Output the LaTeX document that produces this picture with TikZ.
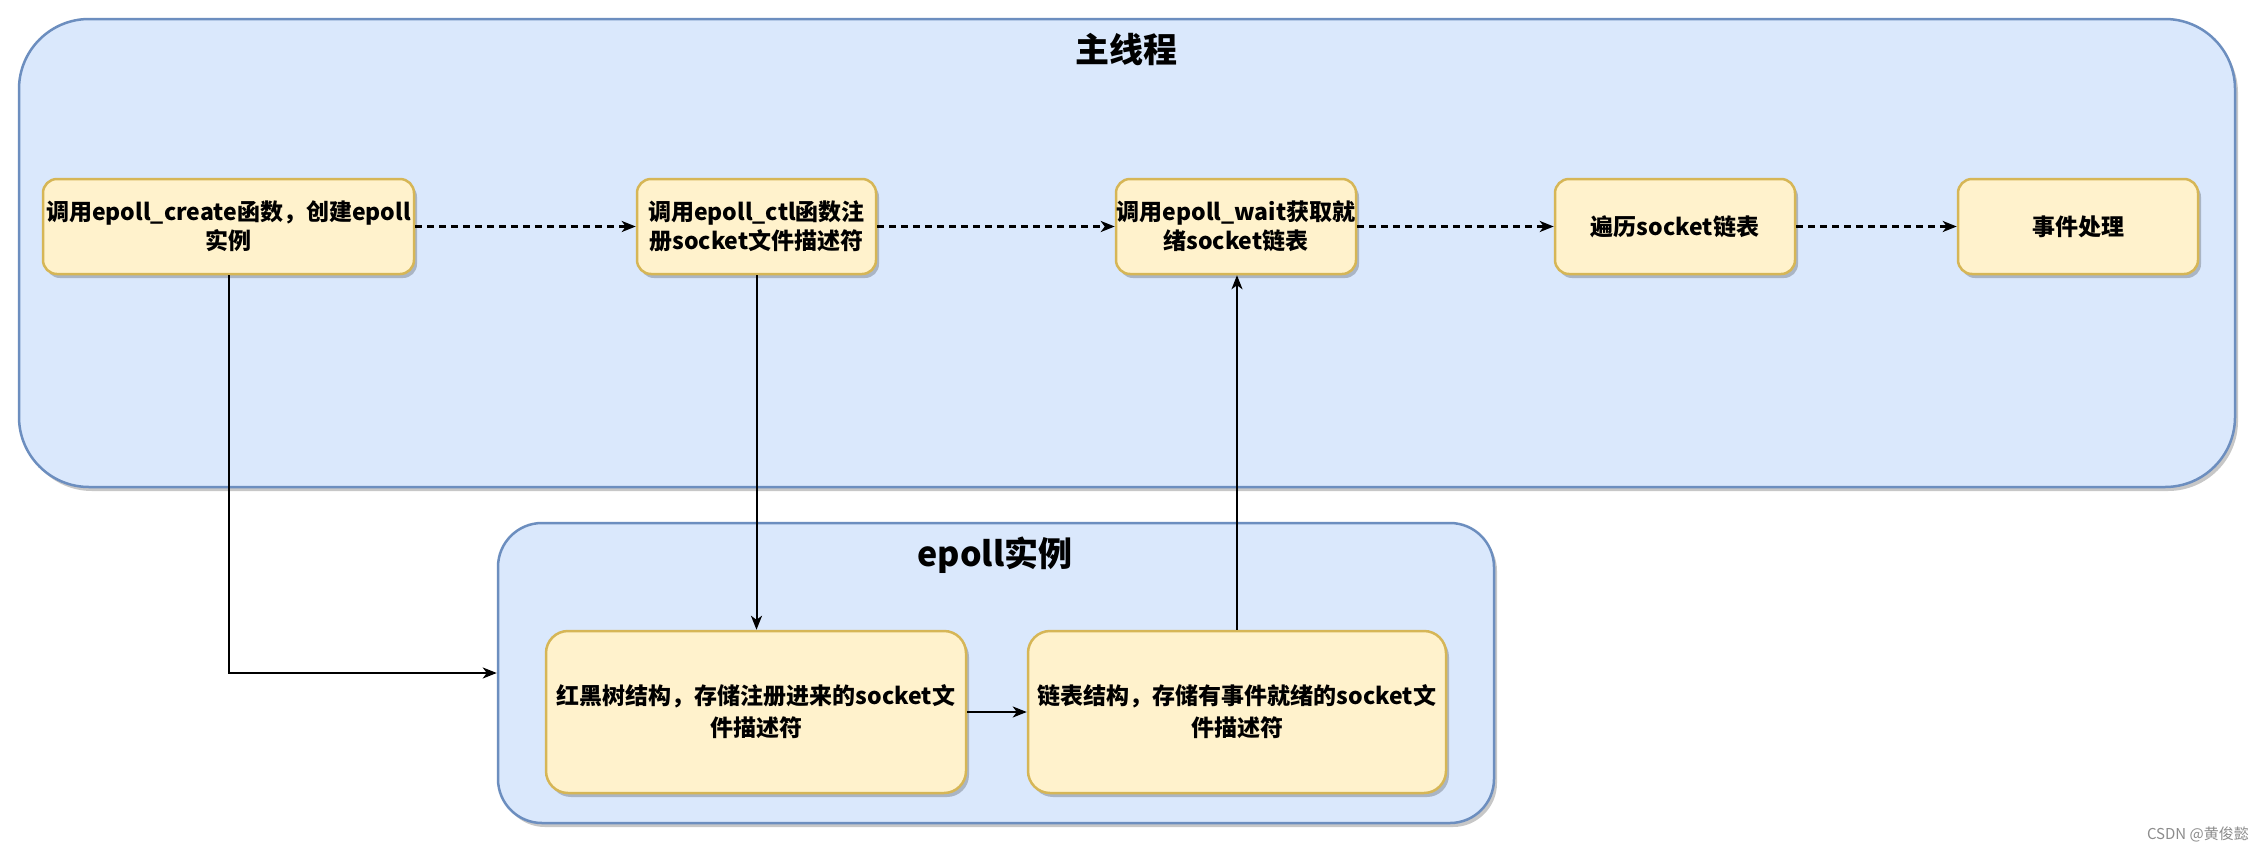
\documentclass[tikz,border=0pt]{standalone}
\usepackage{fontspec}
\setmainfont{Noto Sans CJK SC}
\usetikzlibrary{arrows.meta,shadows}
\definecolor{contfill}{HTML}{DAE8FC}
\definecolor{contdraw}{HTML}{6C8EBF}
\definecolor{boxfill}{HTML}{FFF2CC}
\definecolor{boxdraw}{HTML}{D6B656}
\definecolor{wmark}{HTML}{8C8C8C}
\begin{document}
\begin{tikzpicture}[x=1pt,y=-1pt,
  shad/.style={drop shadow={shadow xshift=3pt,shadow yshift=-4pt,opacity=0.22,fill=black}},
  container/.style={draw=contdraw,fill=contfill,line width=2.5pt,rounded corners=#1,shad,inner sep=0pt},
  stepbox/.style={draw=boxdraw,fill=boxfill,line width=2.5pt,rounded corners=#1,shad,inner sep=0pt,
    align=center,font=\bfseries\fontsize{23}{29}\selectfont},
  titletext/.style={font=\bfseries\fontsize{34}{40}\selectfont,inner sep=0pt},
  arr/.style={-{Stealth[length=14pt,width=11pt,inset=4pt]}},
  dasharr/.style={arr,line width=2.5pt,dash pattern=on 7pt off 5pt},
  solidarr/.style={arr,line width=2pt}
]
\useasboundingbox (0,0) rectangle (2264,852);
\fill[white] (0,0) rectangle (2264,852);

% containers
\node[container=70pt,minimum width=2216pt,minimum height=468pt] (main) at (1127,253) {};
\node[titletext] (maintitle) at (1126,50) {主线程};
\node[container=44pt,minimum width=996pt,minimum height=300pt] (ep) at (996,673) {};
\node[titletext] (eptitle) at (995,555) {epoll实例};

% main thread boxes
\node[stepbox=14pt,minimum width=371pt,minimum height=95pt] (b1) at (228.5,226.5) {调用epoll\_create函数，创建epoll\\实例};
\node[stepbox=14pt,minimum width=239pt,minimum height=95pt] (b2) at (756.5,226.5) {调用epoll\_ctl函数注\\册socket文件描述符};
\node[stepbox=14pt,minimum width=240pt,minimum height=95pt] (b3) at (1236,226.5) {调用epoll\_wait获取就\\绪socket链表};
\node[stepbox=14pt,minimum width=240pt,minimum height=95pt] (b4) at (1675,226.5) {遍历socket链表};
\node[stepbox=14pt,minimum width=240pt,minimum height=95pt] (b5) at (2078,226.5) {事件处理};

% epoll boxes
\node[stepbox=22pt,minimum width=420pt,minimum height=162pt] (b6) at (756,712) {红黑树结构，存储注册进来的socket文\\[3pt]件描述符};
\node[stepbox=22pt,minimum width=418pt,minimum height=162pt] (b7) at (1237,712) {链表结构，存储有事件就绪的socket文\\[3pt]件描述符};

% dashed flow
\draw[dasharr] (b1.east) -- (b2.west);
\draw[dasharr] (b2.east) -- (b3.west);
\draw[dasharr] (b3.east) -- (b4.west);
\draw[dasharr] (b4.east) -- (b5.west);

% solid connectors
\draw[solidarr] (b1.south) |- (ep.west);
\draw[solidarr] (b2.south) -- (b2.south |- b6.north);
\draw[solidarr] (b7.north) -- (b7.north |- b3.south);
\draw[solidarr] (b6.east) -- (b7.west);

% watermark
\node[anchor=east,text=wmark,font=\fontsize{15}{17}\selectfont,inner sep=0pt] (wm) at (2249,834) {CSDN @黄俊懿};
\end{tikzpicture}
\end{document}
